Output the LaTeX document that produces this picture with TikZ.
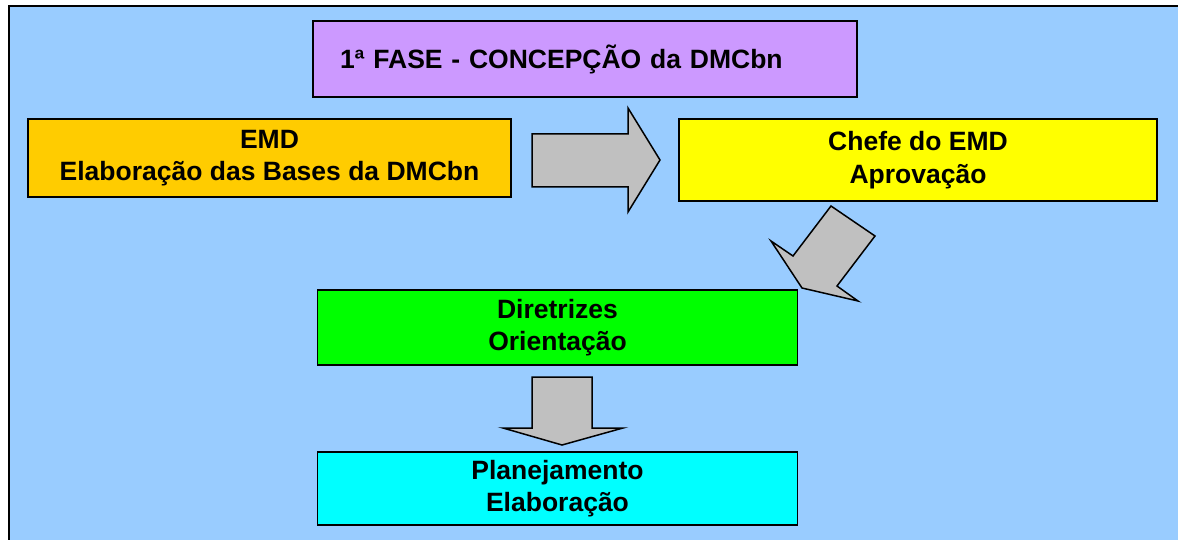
\documentclass[tikz,border=0pt]{standalone}
\usepackage{fontspec}
\setmainfont{Liberation Sans}
\usepackage{tikz}

\definecolor{fundo}{HTML}{99CCFF}
\definecolor{fasecor}{HTML}{CC99FF}
\definecolor{emdcor}{HTML}{FFCC00}
\definecolor{chefecor}{HTML}{FFFF00}
\definecolor{diretcor}{HTML}{00FF00}
\definecolor{planejcor}{HTML}{00FFFF}
\definecolor{setacor}{HTML}{C0C0C0}

\tikzset{
  caixa/.style={draw, line width=1.5pt, inner sep=0pt, align=center,
    font=\fontsize{26.5}{32.5}\selectfont\bfseries},
  seta/.style={draw, fill=setacor, line width=1.5pt, line join=miter}
}

\begin{document}
\begin{tikzpicture}[x=1pt,y=-1pt]
\useasboundingbox (0,0) rectangle (1178,540);
\fill[fundo] (9,6) rectangle (1178,540);
\draw[line width=2pt] (9,540) -- (9,6) -- (1178,6);

\node[caixa, fill=fasecor, minimum width=544, minimum height=76, text width=490, align=left] (fase) at (585,59) {1ª FASE - CONCEPÇÃO da DMCbn};
\node[caixa, fill=emdcor, minimum width=483, minimum height=78] (emd) at (269.5,158) {EMD\\Elaboração das Bases da DMCbn};
\node[caixa, fill=chefecor, minimum width=478, minimum height=82] (chefe) at (918,160) {Chefe do EMD\\Aprovação};
\node[caixa, fill=diretcor, minimum width=480, minimum height=75] (diretrizes) at (557.5,327.5) {Diretrizes\\Orientação};
\node[caixa, fill=planejcor, minimum width=480, minimum height=73] (planej) at (557.5,488.5) {Planejamento\\Elaboração};

% setas
\draw[seta] (532,134) -- (628,134) -- (628,108) -- (660,160) -- (628,212) -- (628,187) -- (532,187) -- cycle;
\draw[seta] (831,206) -- (875,236) -- (837,286) -- (858,301) -- (802,288) -- (771,241) -- (793,256) -- cycle;
\draw[seta] (532,377) -- (592,377) -- (592,428) -- (623,428) -- (562,445) -- (503,428) -- (532,428) -- cycle;
\end{tikzpicture}
\end{document}
